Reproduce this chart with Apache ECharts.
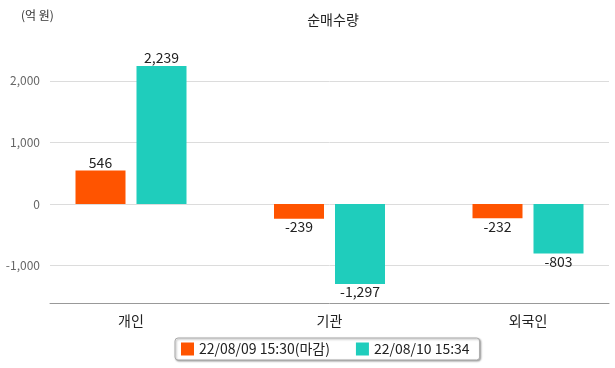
<!DOCTYPE html>
<html><head><meta charset="utf-8">
<script src="https://cdn.jsdelivr.net/npm/echarts@6/dist/echarts.min.js"></script>
<style>html,body{margin:0;padding:0;background:#fff}#c{width:615px;height:368px}</style>
</head><body><div id="c"></div>
<script>
const categories = ['개인', '기관', '외국인'];
const seriesNames = ['22/08/09 15:30(마감)', '22/08/10 15:34'];
const series1 = [546, -239, -232];
const series2 = [2239, -1297, -803];
const yTicks = [-1000, 0, 1000, 2000];
const titleText = '순매수량';
const unitText = '(억 원)';

const FONT = '"Noto Sans CJK KR", "Noto Sans", sans-serif';
const colors = ['#FF5400', '#1FCDBC'];
const yMin = -1606, yMax = 2500;
const fmt = v => v.toLocaleString('en-US');

const chart = echarts.init(document.getElementById('c'), null, {renderer: 'canvas'});
const lbl = {
  show: true, fontFamily: FONT, fontSize: 14, color: '#222',
  formatter: p => fmt(p.value),
  position: 'top', distance: 1
};
function mk(vals) {
  return vals.map(v => ({value: v, label: {position: v >= 0 ? 'top' : 'bottom'}}));
}
chart.setOption({
  animation: false,
  textStyle: {fontFamily: FONT},
  title: [
    {text: titleText, left: 328, top: 8, textAlign: 'center',
     textStyle: {fontFamily: FONT, fontSize: 14, fontWeight: 'normal', color: '#222'}},
    {text: unitText, left: 16, top: 4,
     textStyle: {fontFamily: FONT, fontSize: 12, fontWeight: 'normal', color: '#333'}}
  ],
  legend: {
    data: seriesNames, left: 175, top: 338, width: 310,
    itemWidth: 13, itemHeight: 13, itemGap: 26, icon: 'rect',
    padding: [4, 10, 4, 6],
    borderColor: '#aaa', borderWidth: 1, borderRadius: 3,
    backgroundColor: '#fff',
    shadowColor: 'rgba(0,0,0,0.35)', shadowBlur: 2, shadowOffsetX: 1, shadowOffsetY: 1,
    textStyle: {fontFamily: FONT, fontSize: 14, color: '#222'}
  },
  grid: [
    {left: 50, right: 6, top: 50, bottom: 65, containLabel: false},
    {left: 131, right: 87, top: 50, bottom: 65, containLabel: false}
  ],
  xAxis: [
    {gridIndex: 0, type: 'category', data: categories,
     axisLine: {onZero: false, lineStyle: {color: '#999'}},
     axisTick: {show: false}, axisLabel: {show: false}},
    {gridIndex: 1, type: 'category', data: categories, boundaryGap: false,
     axisLine: {show: false}, axisTick: {show: false},
     axisLabel: {fontFamily: FONT, fontSize: 14, color: '#222', margin: 11}}
  ],
  yAxis: [
    {gridIndex: 0, type: 'value', min: yMin, max: yMax,
     axisLine: {show: false}, axisTick: {show: false},
     axisLabel: {fontFamily: FONT, fontSize: 12, color: '#666', margin: 10,
       showMinLabel: false, showMaxLabel: false,
       formatter: v => yTicks.includes(v) ? fmt(v) : ''},
     splitLine: {lineStyle: {color: '#dcdcdc'}, showMinLine: false, showMaxLine: false}},
    {gridIndex: 1, type: 'value', min: yMin, max: yMax, show: false, splitLine: {show: false}}
  ],
  series: [
    {name: seriesNames[0], type: 'bar', xAxisIndex: 1, yAxisIndex: 1, data: mk(series1),
     barWidth: 50, barGap: '22%', itemStyle: {color: colors[0]}, label: lbl},
    {name: seriesNames[1], type: 'bar', xAxisIndex: 1, yAxisIndex: 1, data: mk(series2),
     barWidth: 50, barGap: '22%', itemStyle: {color: colors[1]}, label: lbl}
  ]
});
</script></body></html>
